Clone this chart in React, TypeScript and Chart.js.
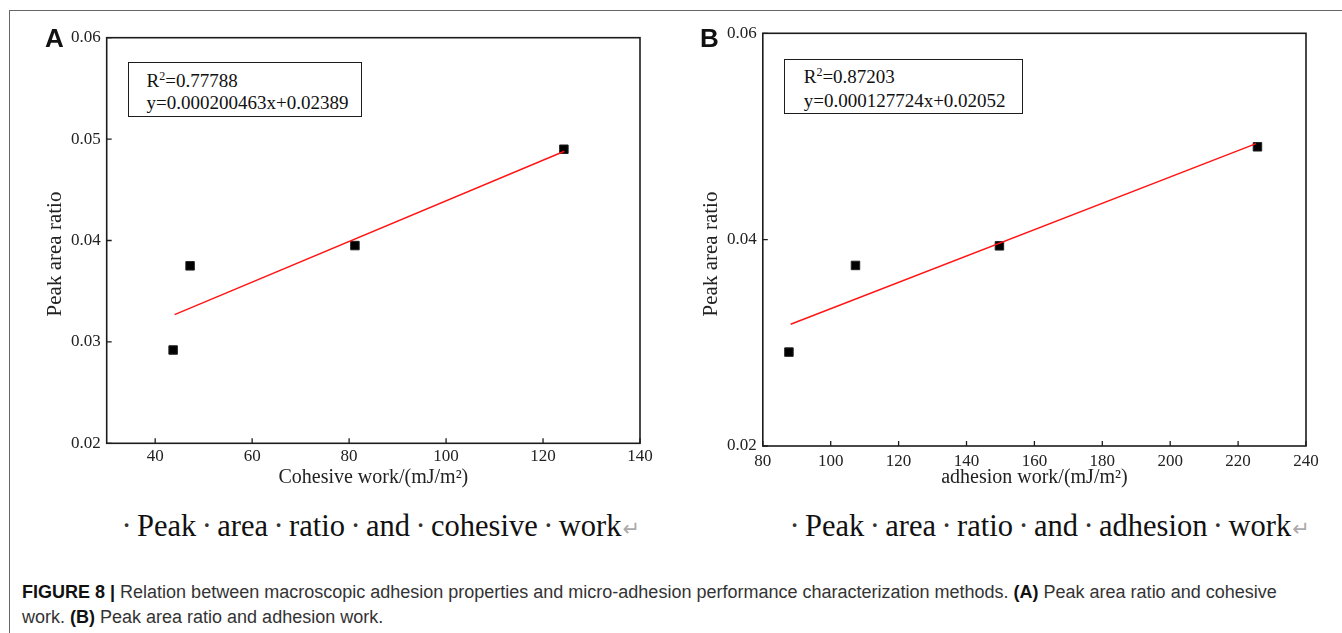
import React, { useEffect, useRef } from "react";
import { Chart, registerables } from "chart.js";

Chart.register(...registerables);

const SERIF = '"Liberation Serif", "Times New Roman", Times, serif';
const SANS = '"Liberation Sans", Arial, Helvetica, sans-serif';

// ---------- Panel A: peak area ratio vs cohesive work ----------
const cohesiveWork = [43.7, 47.2, 81.2, 124.3];
const peakRatioA = [0.0292, 0.0375, 0.0395, 0.049];
const fitLineAX = [44.0, 124.4];
const fitLineAY = [0.0327, 0.0488];
const xTicksA = [40, 60, 80, 100, 120, 140];
const yTicksA = [0.02, 0.03, 0.04, 0.05, 0.06];
const equationA = ["0.77788", "y=0.000200463x+0.02389"];

// ---------- Panel B: peak area ratio vs adhesion work ----------
const adhesionWork = [87.7, 107.3, 149.7, 225.7];
const peakRatioB = [0.0291, 0.0375, 0.0394, 0.049];
const fitLineBX = [88.2, 225.3];
const fitLineBY = [0.0318, 0.0493];
const xTicksB = [80, 100, 120, 140, 160, 180, 200, 220, 240];
const yTicksB = [0.02, 0.04, 0.06];
const equationB = ["0.87203", "y=0.000127724x+0.02052"];

const frameTicks = {
  id: "frameTicks",
  afterDatasetsDraw(chart: any, _args: any, opts: any) {
    const { ctx, chartArea: ca, scales } = chart;
    ctx.save();
    ctx.strokeStyle = "#1c1c1c";
    ctx.lineWidth = 1.6;
    ctx.strokeRect(ca.left, ca.top, ca.right - ca.left, ca.bottom - ca.top);
    ctx.lineWidth = 1.3;
    ctx.beginPath();
    scales.x.ticks.forEach((t: any) => {
      const px = scales.x.getPixelForValue(t.value);
      ctx.moveTo(px, ca.bottom);
      ctx.lineTo(px, ca.bottom - 5);
    });
    scales.y.ticks.forEach((t: any) => {
      const py = scales.y.getPixelForValue(t.value);
      ctx.moveTo(ca.left, py);
      ctx.lineTo(ca.left + 5, py);
    });
    ctx.stroke();
    // rotated y-axis title
    if (opts && opts.yTitle) {
      ctx.translate(opts.yTitleX, opts.yTitleY);
      ctx.rotate(-Math.PI / 2);
      ctx.fillStyle = "#222";
      ctx.font = `21px ${SERIF}`;
      ctx.textAlign = "center";
      ctx.textBaseline = "middle";
      ctx.fillText(opts.yTitle, 0, 0);
    }
    ctx.restore();
  },
};

type PanelProps = {
  xs: number[];
  ys: number[];
  fx: number[];
  fy: number[];
  xTicks: number[];
  yTicks: number[];
  xMin: number;
  xMax: number;
  yMin: number;
  yMax: number;
  xTitle: string;
  yTitle: string;
  left: number;
  width: number;
  height: number;
  padTop: number;
  padRight: number;
  yAxisWidth: number;
  xAxisHeight: number;
  yTitleX: number;
  yTitleY: number;
  xTitlePad: number;
  yTickPad: number;
  xTickPad: number;
};

function Panel(p: PanelProps) {
  const ref = useRef<HTMLCanvasElement | null>(null);
  useEffect(() => {
    if (!ref.current) return;
    const chart = new Chart(ref.current, {
      type: "scatter",
      data: {
        datasets: [
          {
            type: "line",
            data: p.fx.map((x, i) => ({ x, y: p.fy[i] })),
            borderColor: "#ff1414",
            borderWidth: 1.4,
            pointRadius: 0,
            fill: false,
            tension: 0,
          } as any,
          {
            type: "scatter",
            data: p.xs.map((x, i) => ({ x, y: p.ys[i] })),
            pointStyle: "rect",
            pointRadius: 6,
            backgroundColor: "#000",
            borderColor: "#222",
            borderWidth: 1,
          },
        ],
      },
      options: {
        animation: false,
        responsive: true,
        maintainAspectRatio: false,
        layout: { padding: { top: p.padTop, right: p.padRight, left: 0, bottom: 0 } },
        plugins: {
          legend: { display: false },
          tooltip: { enabled: false },
          frameTicks: { yTitle: p.yTitle, yTitleX: p.yTitleX, yTitleY: p.yTitleY },
        },
        scales: {
          x: {
            type: "linear",
            min: p.xMin,
            max: p.xMax,
            grid: { display: false, drawTicks: false },
            border: { display: false },
            afterBuildTicks: (s: any) => {
              s.ticks = p.xTicks.map((v) => ({ value: v }));
            },
            afterFit: (s: any) => {
              s.height = p.xAxisHeight;
            },
            ticks: {
              color: "#222",
              font: { family: SERIF, size: 17 },
              padding: p.xTickPad,
              maxRotation: 0,
              autoSkip: false,
              callback: (v: any) => String(v),
            },
            title: {
              display: true,
              text: p.xTitle,
              color: "#222",
              font: { family: SERIF, size: 20 },
              padding: { top: 0, bottom: p.xTitlePad },
            },
          },
          y: {
            type: "linear",
            min: p.yMin,
            max: p.yMax,
            grid: { display: false, drawTicks: false },
            border: { display: false },
            afterBuildTicks: (s: any) => {
              s.ticks = p.yTicks.map((v) => ({ value: v }));
            },
            afterFit: (s: any) => {
              s.width = p.yAxisWidth;
            },
            ticks: {
              color: "#222",
              font: { family: SERIF, size: 17 },
              padding: p.yTickPad,
              autoSkip: false,
              callback: (v: any) => Number(v).toFixed(2),
            },
            title: { display: false },
          },
        },
      },
      plugins: [frameTicks],
    } as any);
    return () => chart.destroy();
  }, []);
  return (
    <div style={{ position: "absolute", left: p.left, top: 0, width: p.width, height: p.height }}>
      <canvas ref={ref} />
    </div>
  );
}

function EqBox({ left, top, width, height, textLeft, base1, base2, eq }: any) {
  const lineStyle: React.CSSProperties = {
    position: "absolute",
    left: textLeft,
    fontFamily: SERIF,
    fontSize: 19,
    lineHeight: "19px",
    color: "#111",
    whiteSpace: "nowrap",
  };
  return (
    <>
      <div
        style={{
          position: "absolute",
          left,
          top,
          width,
          height,
          border: "1.6px solid #1c1c1c",
          boxSizing: "border-box",
          background: "#fff",
        }}
      />
      <div style={{ ...lineStyle, top: base1 - 16 }}>
        R<span style={{ fontSize: 12, position: "relative", top: -7, lineHeight: 0 }}>2</span>={eq[0]}
      </div>
      <div style={{ ...lineStyle, top: base2 - 16 }}>{eq[1]}</div>
    </>
  );
}

function SerifCaption({ left, words }: { left: number; words: string[] }) {
  const dot = (k: number) => (
    <span key={"d" + k} style={{ display: "inline-block", width: 21, textAlign: "center", color: "#333" }}>
      ·
    </span>
  );
  const parts: any[] = [dot(-1)];
  words.forEach((w, i) => {
    parts.push(<span key={"w" + i}>{w}</span>);
    if (i < words.length - 1) parts.push(dot(i));
  });
  return (
    <div
      style={{
        position: "absolute",
        left: left - 4,
        top: 509,
        fontFamily: SERIF,
        fontSize: 30.5,
        lineHeight: "34px",
        color: "#111",
        whiteSpace: "nowrap",
      }}
    >
      {parts}
      <span style={{ color: "#aaa", fontSize: 21, fontFamily: '"DejaVu Sans", sans-serif', marginLeft: 1 }}>↵</span>
    </div>
  );
}

export default function App() {
  const capStyle: React.CSSProperties = {
    position: "absolute",
    left: 22,
    fontFamily: SANS,
    fontSize: 18,
    lineHeight: "25px",
    color: "#333",
    whiteSpace: "nowrap",
  };
  return (
    <div
      style={{
        position: "absolute",
        left: 0,
        top: 0,
        width: 1342,
        height: 633,
        overflow: "hidden",
        background: "#fff",
      }}
    >
      <div
        style={{
          position: "absolute",
          left: 8.5,
          top: 10,
          width: 1400,
          height: 700,
          borderTop: "1.5px solid #666",
          borderLeft: "1.5px solid #666",
        }}
      />
      <Panel
        xs={cohesiveWork}
        ys={peakRatioA}
        fx={fitLineAX}
        fy={fitLineAY}
        xTicks={xTicksA}
        yTicks={yTicksA}
        xMin={30}
        xMax={140}
        yMin={0.02}
        yMax={0.06}
        xTitle="Cohesive work/(mJ/m²)"
        yTitle="Peak area ratio"
        left={0}
        width={680}
        height={500}
        padTop={37.7}
        padRight={40}
        yAxisWidth={106.7}
        xAxisHeight={56.7}
        yTitleX={55}
        yTitleY={254}
        xTitlePad={10.5}
        yTickPad={6}
        xTickPad={3}
      />
      <Panel
        xs={adhesionWork}
        ys={peakRatioB}
        fx={fitLineBX}
        fy={fitLineBY}
        xTicks={xTicksB}
        yTicks={yTicksB}
        xMin={80}
        xMax={240}
        yMin={0.02}
        yMax={0.06}
        xTitle="adhesion work/(mJ/m²)"
        yTitle="Peak area ratio"
        left={680}
        width={662}
        height={500}
        padTop={33.3}
        padRight={36}
        yAxisWidth={82.8}
        xAxisHeight={54}
        yTitleX={31.7}
        yTitleY={254}
        xTitlePad={10}
        yTickPad={6}
        xTickPad={5}
      />
      <EqBox left={128} top={62} width={234} height={55} textLeft={146.5} base1={87.3} base2={109} eq={equationA} />
      <EqBox left={784} top={59.3} width={239} height={55} textLeft={803.7} base1={83.3} base2={107.3} eq={equationB} />
      <div style={{ position: "absolute", left: 45, top: 25, fontFamily: SANS, fontWeight: "bold", fontSize: 26, lineHeight: "26px", color: "#111" }}>
        A
      </div>
      <div style={{ position: "absolute", left: 700, top: 25, fontFamily: SANS, fontWeight: "bold", fontSize: 26, lineHeight: "26px", color: "#111" }}>
        B
      </div>
      <SerifCaption left={120} words={["Peak", "area", "ratio", "and", "cohesive", "work"]} />
      <SerifCaption left={788} words={["Peak", "area", "ratio", "and", "adhesion", "work"]} />
      <div style={{ ...capStyle, top: 579.5 }}>
        <b style={{ color: "#111" }}>FIGURE 8</b> <b style={{ color: "#111", fontWeight: "bold" }}>|</b> Relation between macroscopic
        adhesion properties and micro-adhesion performance characterization methods. <b style={{ color: "#111" }}>(A)</b> Peak area
        ratio and cohesive
      </div>
      <div style={{ ...capStyle, top: 604.5 }}>
        work. <b style={{ color: "#111" }}>(B)</b> Peak area ratio and adhesion work.
      </div>
    </div>
  );
}
